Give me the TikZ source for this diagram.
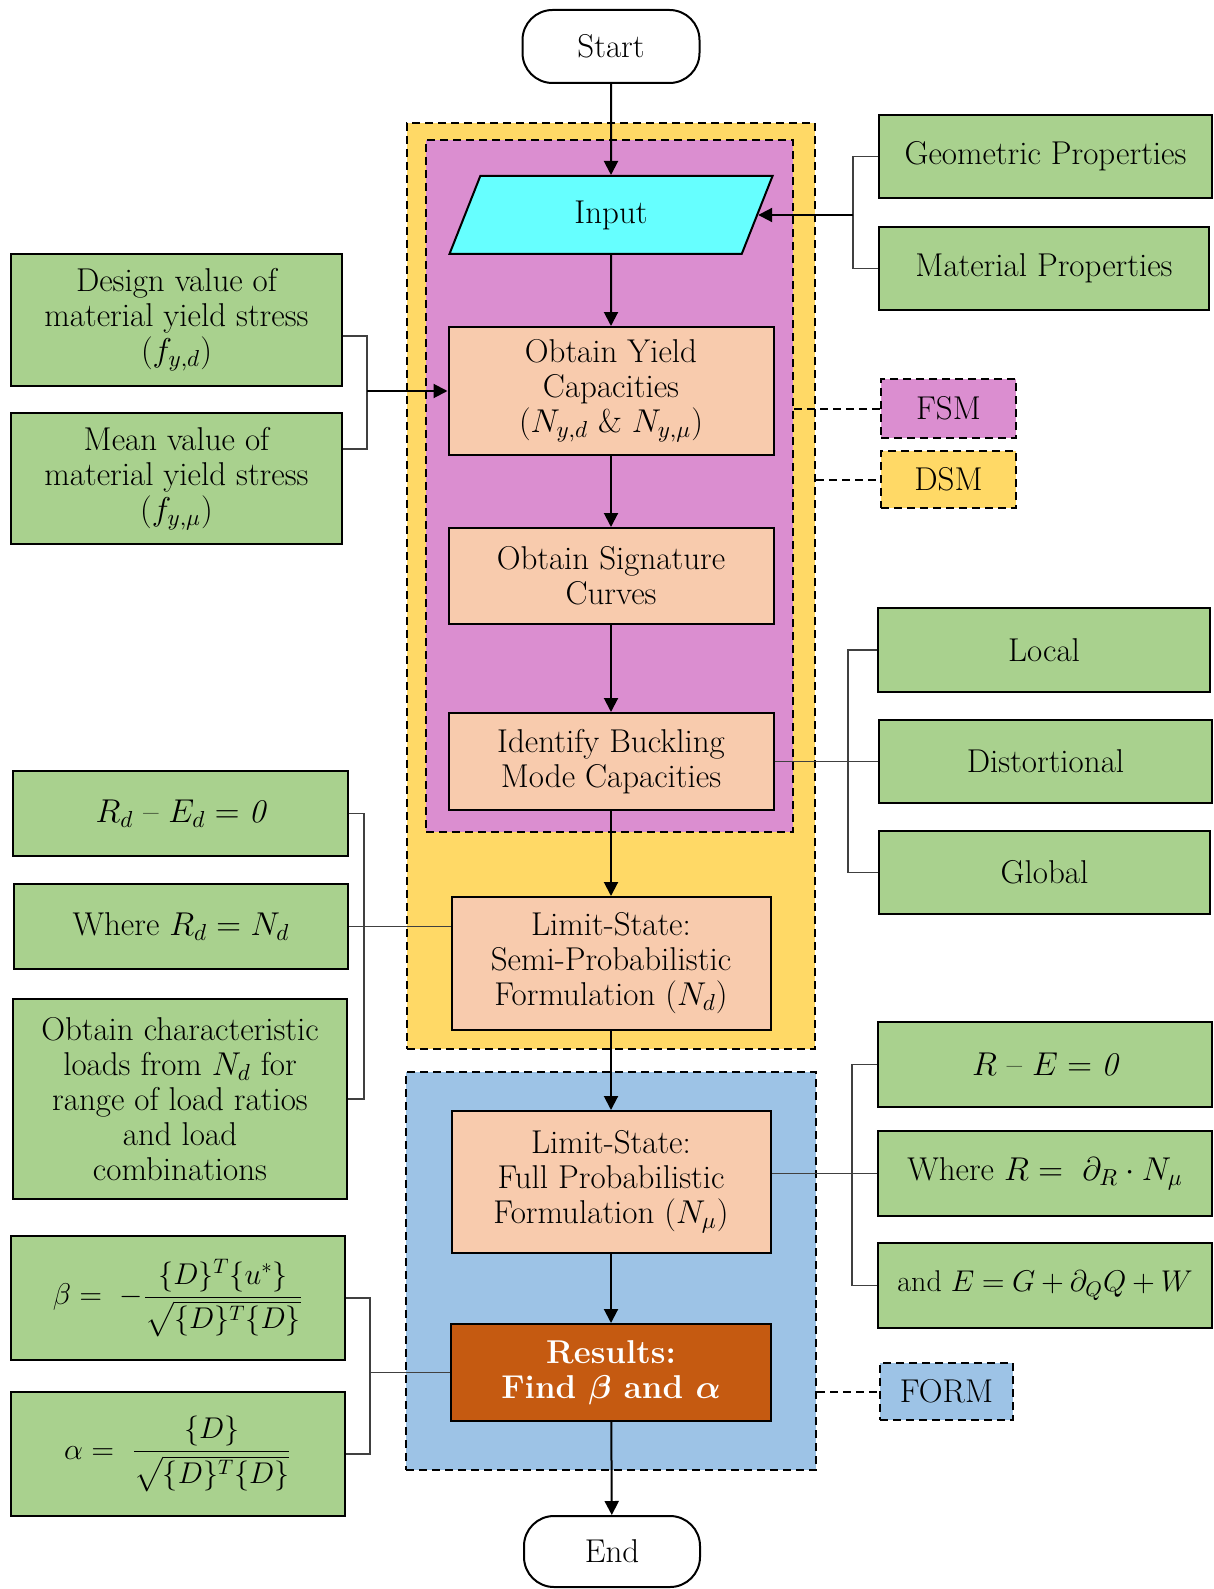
\RequirePackage{fix-cm}
\documentclass[tikz,border=0pt]{standalone}
\usepackage{amsmath,bm}
\usepackage{fontspec}
\usetikzlibrary{arrows.meta,shapes.geometric,calc}

\definecolor{leaf}{HTML}{A9D18E}
\definecolor{peach}{HTML}{F8CBAD}
\definecolor{orchid}{HTML}{DB8ED0}
\definecolor{gold}{HTML}{FFD966}
\definecolor{sky}{HTML}{9DC3E6}
\definecolor{aqua}{HTML}{66FFFF}
\definecolor{rust}{HTML}{C55A11}
\definecolor{wire}{HTML}{404040}

\tikzset{
  every node/.style={font=\fontsize{16.5}{17.5}\selectfont, align=center, inner sep=2pt},
  box/.style={draw=black, line width=1pt, fill=peach},
  side/.style={draw=black, line width=1pt, fill=leaf},
  formula/.style={font=\fontsize{15}{17.5}\selectfont},
  group/.style={draw=black, line width=1pt, dash pattern=on 4pt off 2.5pt},
  tag/.style={draw=black, line width=1pt, dash pattern=on 4pt off 2.5pt},
  terminal/.style={draw=black, line width=1pt, fill=white, rounded corners=15pt},
  flow/.style={line width=1pt, -{Triangle[length=7pt,width=7pt]}},
  bracket/.style={draw=wire, line width=0.6pt},
  dashlink/.style={line width=1pt, dash pattern=on 4pt off 2.5pt},
}

\begin{document}
\begin{tikzpicture}[x=0.5pt,y=-0.5pt]
\useasboundingbox (0,0) rectangle (1214,1589);

% method containers
\node[group, fill=gold, minimum width=204pt, minimum height=463pt] (dsm) at (611,586) {};
\node[group, fill=orchid, minimum width=183.5pt, minimum height=346pt] (fsm) at (609.5,486) {};
\node[group, fill=sky, minimum width=205pt, minimum height=199pt] (form) at (611,1271) {};

% main flow
\node[terminal, minimum width=88.5pt, minimum height=36.5pt] (start) at (611,46.5) {Start};
\node[draw=black, line width=1pt, fill=aqua, trapezium, trapezium left angle=75.5, trapezium right angle=104.5,
      trapezium stretches=true, minimum width=162pt, minimum height=39pt] (input) at (611,215) {Input};
\node[box, minimum width=162.5pt, minimum height=64pt] (yield) at (611,391)
  {Obtain Yield\\Capacities\\($N_{y,d}$ \& $N_{y,\mu}$)};
\node[box, minimum width=162.5pt, minimum height=48pt] (sig) at (611,576)
  {Obtain Signature\\Curves};
\node[box, minimum width=162.5pt, minimum height=48.5pt] (buck) at (611,761.5)
  {Identify Buckling\\Mode Capacities};
\node[box, minimum width=159.5pt, minimum height=66.5pt] (semi) at (611,963.5)
  {Limit-State:\\Semi-Probabilistic\\Formulation ($N_d$)};
\node[box, minimum width=159.5pt, minimum height=71pt] (full) at (611,1182)
  {Limit-State:\\Full Probabilistic\\Formulation ($N_\mu$)};
\node[box, fill=rust, text=white, minimum width=160pt, minimum height=48.5pt,
      font=\fontsize{16.5}{17.5}\selectfont\bfseries] (res) at (611,1372.5)
  {Results:\\Find $\bm{\beta}$ and $\bm{\alpha}$};
\node[terminal, minimum width=88pt, minimum height=35.5pt] (stop) at (612,1551.5) {End};

\draw[flow] (start.south) -- (input.north);
\draw[flow] (input.south) -- (yield.north);
\draw[flow] (yield) -- (sig);
\draw[flow] (sig) -- (buck);
\draw[flow] (buck) -- (semi);
\draw[flow] (semi) -- (full);
\draw[flow] (full) -- (res);
\draw[flow] (res) -- (stop);

% method tags
\node[tag, fill=orchid, minimum width=67.5pt, minimum height=29.5pt] (fsmtag) at (948.5,408.5) {FSM};
\node[tag, fill=gold, minimum width=67.5pt, minimum height=28.5pt] (dsmtag) at (948.5,479.5) {DSM};
\node[tag, fill=sky, minimum width=66.5pt, minimum height=28.5pt] (formtag) at (946.5,1391.5) {FORM};
\draw[dashlink] (fsm.east |- fsmtag.west) -- (fsmtag.west);
\draw[dashlink] (dsm.east |- dsmtag.west) -- (dsmtag.west);
\draw[dashlink] (form.east |- formtag.west) -- (formtag.west);

% input properties
\node[side, minimum width=166.5pt, minimum height=41.5pt] (geo) at (1045.5,156.5) {Geometric Properties};
\node[side, minimum width=165pt, minimum height=41.5pt] (mat) at (1044,268.5) {Material Properties};
\draw[bracket] (geo.west) -- ++(-25,0) |- (mat.west);
\coordinate (geobar) at ($(input.east -| geo.west)+(-25,0)$);
\draw[flow] (geobar) -- (input.east);

% yield stresses
\node[side, minimum width=165.5pt, minimum height=66pt] (dv) at (176.5,320)
  {Design value of\\material yield stress\\($f_{y,d}$)};
\node[side, minimum width=165.5pt, minimum height=65.5pt] (mv) at (176.5,478.5)
  {Mean value of\\material yield stress\\($f_{y,\mu}$)};
\draw[bracket] ([yshift=-8pt]dv.east) -- ++(24,0) |- ([yshift=14.75pt]mv.east);
\coordinate (dvbar) at ($(dv.east)+(24,0)$);
\draw[flow] (dvbar |- yield.west) -- (yield.west);

% buckling modes
\node[side, minimum width=166pt, minimum height=42pt] (local) at (1044,650) {Local};
\node[side, minimum width=166.5pt, minimum height=41.5pt] (dist) at (1045.5,761.5) {Distortional};
\node[side, minimum width=165.5pt, minimum height=41.5pt] (glob) at (1044.5,872.5) {Global};
\draw[bracket] (local.west) -- ++(-29,0) |- (glob.west);
\draw[bracket] (buck.east) -- (buck.east -| dist.west);

% semi-probabilistic formulation
\node[side, minimum width=167.5pt, minimum height=42.5pt] (rd) at (180.5,813.5)
  {$R_d$ -- $E_d = \mathit{0}$};
\node[side, minimum width=167pt, minimum height=42.5pt] (wrd) at (181,926.5)
  {Where $R_d = N_d$};
\node[side, minimum width=167pt, minimum height=100pt] (oc) at (180,1099)
  {Obtain characteristic\\loads from $N_d$ for\\range of load ratios\\and load\\combinations};
\draw[bracket] (rd.east) -- ++(15,0) |- (oc.east);
\draw[bracket] (wrd.east) -- (wrd.east -| semi.west);

% full probabilistic formulation
\node[side, minimum width=167pt, minimum height=42.5pt] (re) at (1045,1064.5)
  {$R$ -- $E = \mathit{0}$};
\node[side, minimum width=167pt, minimum height=42.5pt] (wr) at (1045,1173.5)
  {Where $R =\ \partial_R\cdot N_\mu$};
\node[side, formula, minimum width=167pt, minimum height=42.5pt] (ae) at (1045,1285.5)
  {and $\medmuskip=3.5mu\thickmuskip=4.5mu E = G + \partial_Q Q + W$};
\draw[bracket] (re.west) -- ++(-25,0) |- (ae.west);
\draw[bracket] (wr.west) -- (wr.west -| full.east);

% reliability results
\node[side, formula, minimum width=167pt, minimum height=62pt] (beta) at (178,1298)
  {$\displaystyle \beta =\ -\frac{\{D\}^T\{u^*\}}{\sqrt{\{D\}^T\{D\}}}$};
\node[side, formula, minimum width=167pt, minimum height=62pt] (alpha) at (178,1454)
  {$\displaystyle \alpha =\ \frac{\{D\}}{\sqrt{\{D\}^T\{D\}}}$};
\draw[bracket] (beta.east) -- ++(24,0) |- (alpha.east);
\coordinate (betabar) at ($(beta.east)+(24,0)$);
\draw[bracket] (betabar |- res.west) -- (res.west);
\end{tikzpicture}
\end{document}
